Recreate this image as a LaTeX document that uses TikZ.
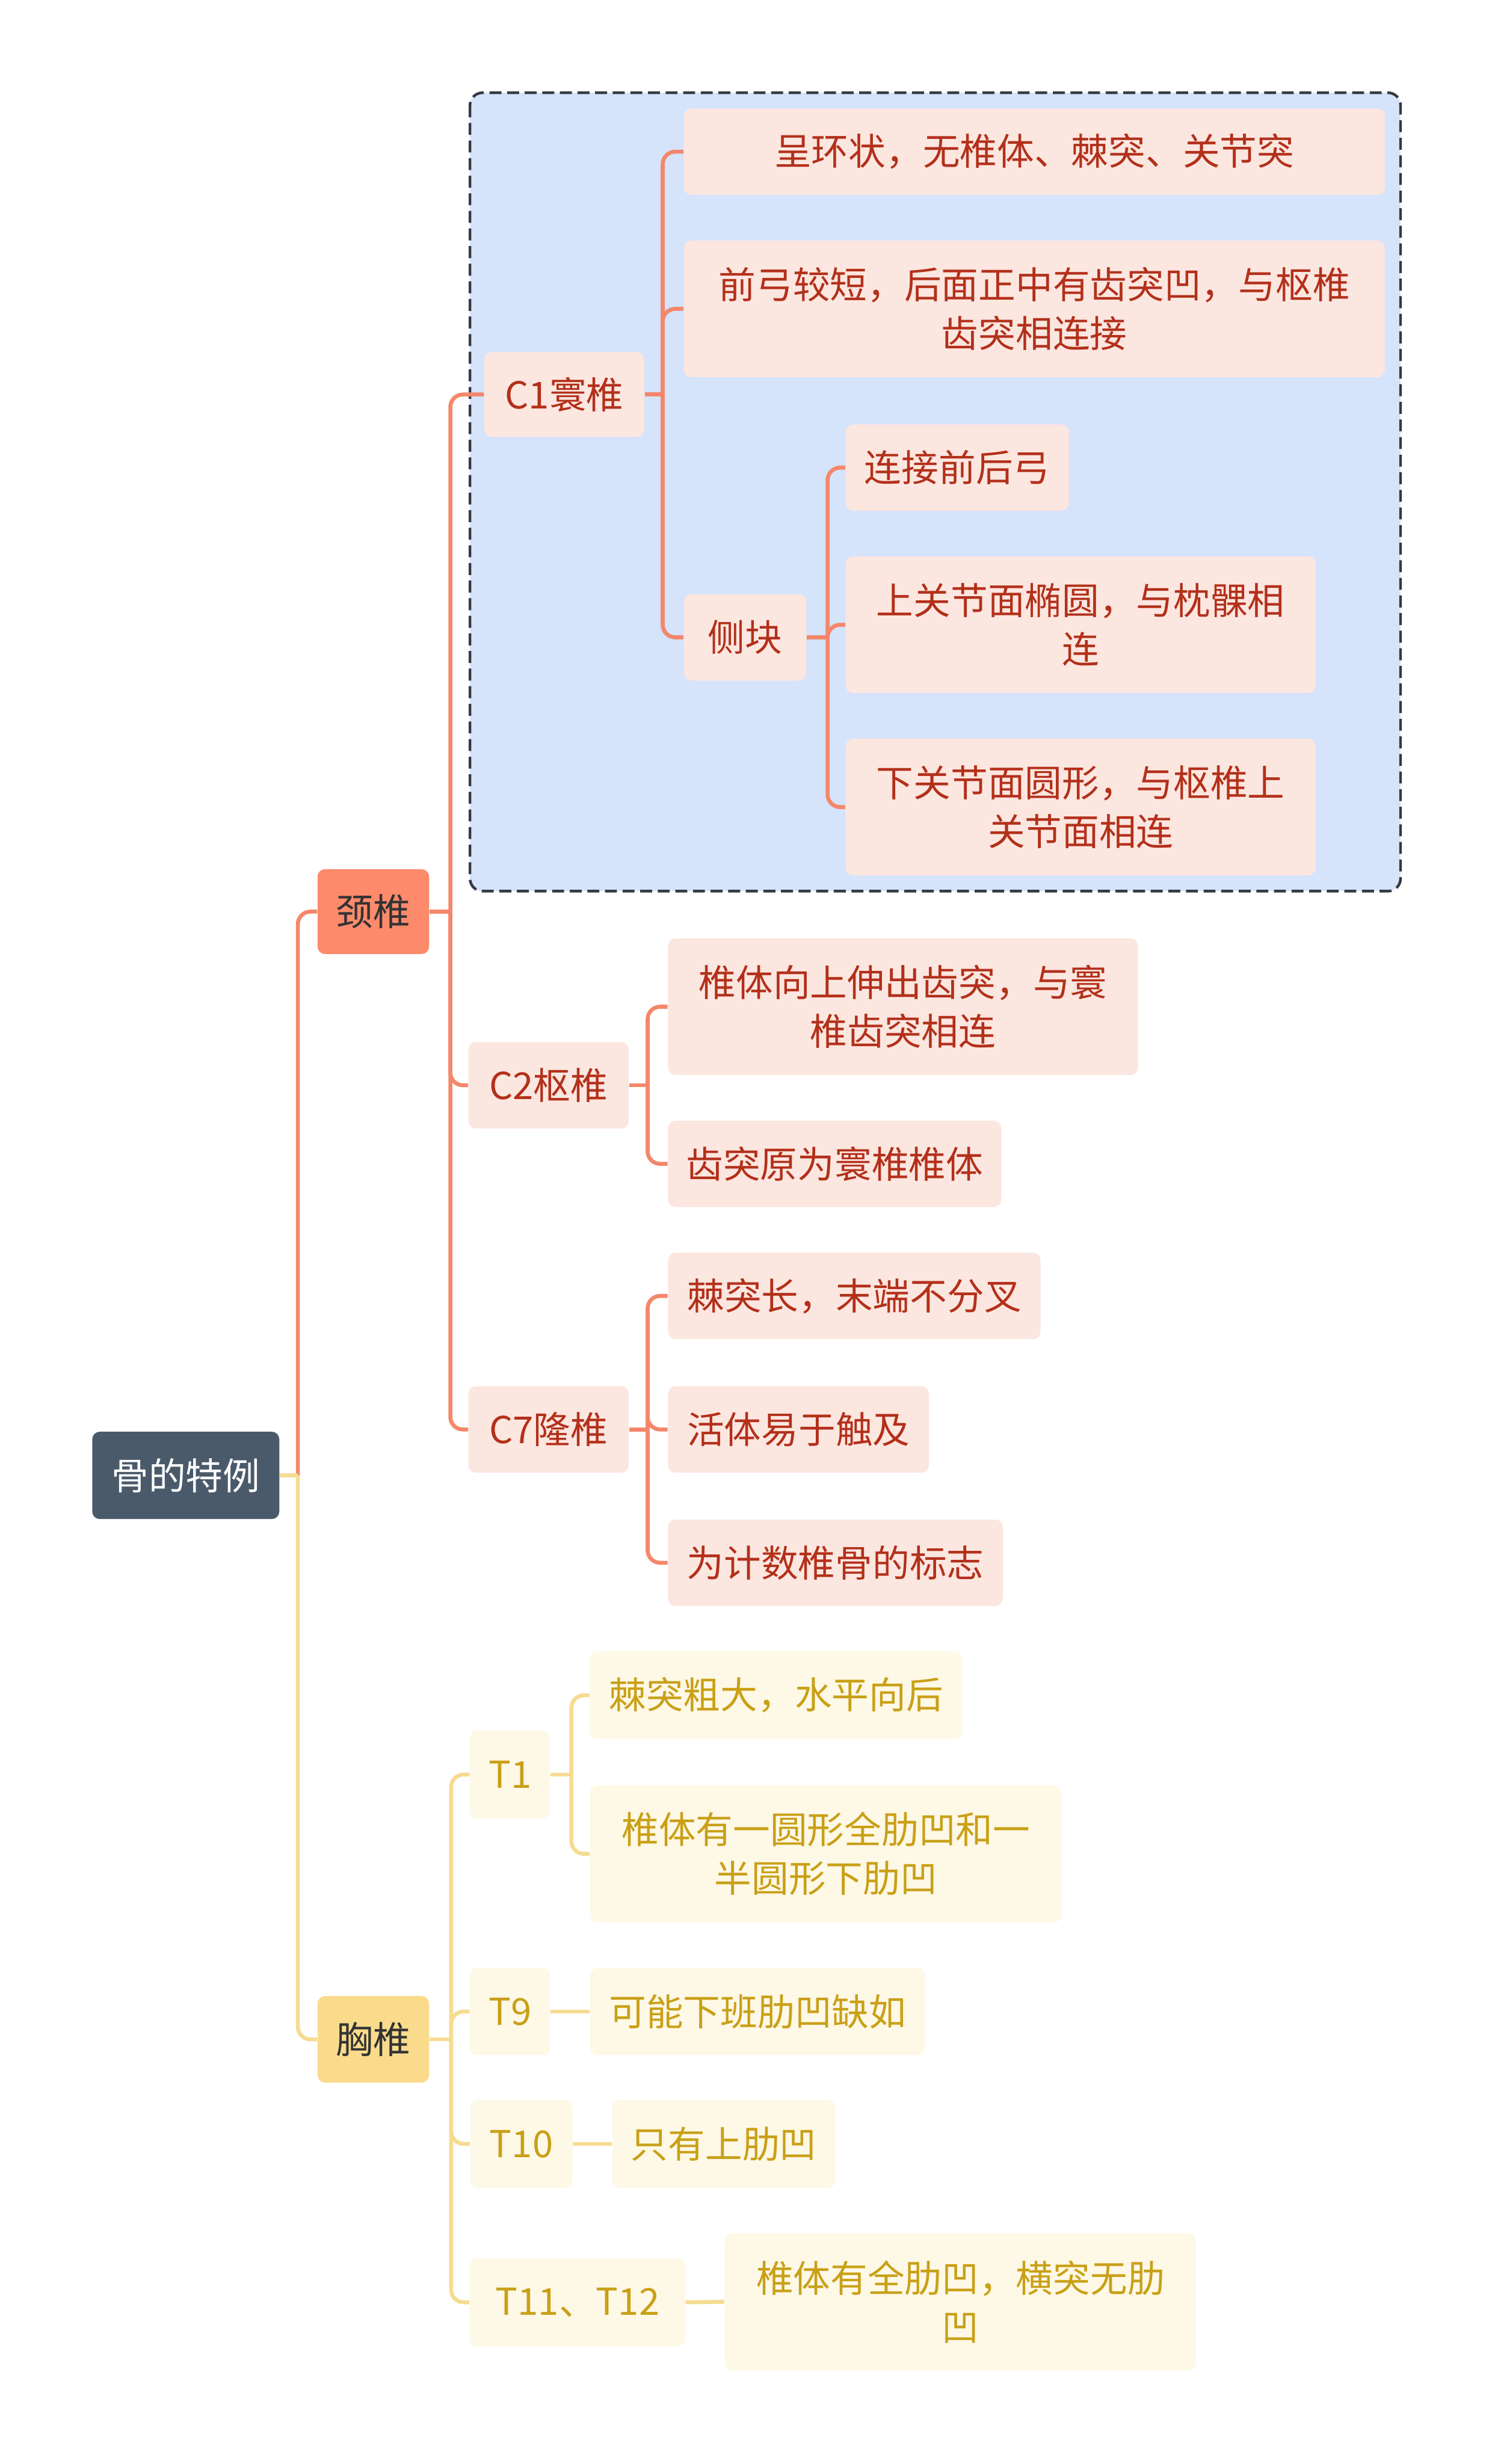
\documentclass[tikz,border=0pt]{standalone}
\usepackage{fontspec}
\setmainfont{Noto Sans CJK SC}
\usepackage{tikz}
\usetikzlibrary{calc}

\definecolor{rootfill}{HTML}{4A5A6A}
\definecolor{neckfill}{HTML}{FD8A6B}
\definecolor{chestfill}{HTML}{F9DB8B}
\definecolor{pinkfill}{HTML}{FCE6E0}
\definecolor{pinktext}{HTML}{B3301A}
\definecolor{pinkline}{HTML}{F4876B}
\definecolor{creamfill}{HTML}{FEF8E6}
\definecolor{creamtext}{HTML}{C9A016}
\definecolor{creamline}{HTML}{F6DC92}
\definecolor{groupfill}{HTML}{D5E3FB}
\definecolor{groupedge}{HTML}{333A40}
\definecolor{darktext}{HTML}{333333}

\begin{document}
\begin{tikzpicture}[x=0.25mm, y=-0.25mm,
  box/.style={rounded corners=1.2mm, inner sep=0pt, align=center, font=\fontsize{16.8}{22}\selectfont},
  rootbox/.style={box, fill=rootfill, text=white},
  neckbox/.style={box, fill=neckfill, text=darktext},
  chestbox/.style={box, fill=chestfill, text=darktext},
  pinkbox/.style={box, fill=pinkfill, text=pinktext},
  creambox/.style={box, fill=creamfill, text=creamtext},
  pinkwire/.style={draw=pinkline, line width=1.8pt},
  creamwire/.style={draw=creamline, line width=1.8pt},
  elbow/.style={rounded corners=2mm}]
\useasboundingbox (0,0) rectangle (951,1567.7);

\draw[fill=groupfill, draw=groupedge, line width=1.2pt, dash pattern=on 1.9mm off 0.9mm, rounded corners=2mm] (299,59) rectangle (891,567);

\node[rootbox, minimum width=29.75mm, minimum height=13.9mm] (root) at (118.2,938.7) {骨的特例};
\node[neckbox, minimum width=17.75mm, minimum height=13.5mm] (neck) at (237.5,580) {颈椎};
\node[chestbox, minimum width=17.75mm, minimum height=13.75mm] (chest) at (237.5,1297.5) {胸椎};

\node[pinkbox, minimum width=25.5mm, minimum height=13.5mm] (c1) at (359,251) {C1寰椎};
\node[pinkbox, minimum width=111.5mm, minimum height=13.75mm] (c1a) at (658,96.5) {呈环状，无椎体、棘突、关节突};
\node[pinkbox, minimum width=111.5mm, minimum height=21.75mm] (c1b) at (658,196.5) {前弓较短，后面正中有齿突凹，与枢椎\\齿突相连接};
\node[pinkbox, minimum width=19.5mm, minimum height=13.75mm] (side) at (474,405.5) {侧块};
\node[pinkbox, minimum width=35.5mm, minimum height=13.75mm] (side1) at (609,297.5) {连接前后弓};
\node[pinkbox, minimum width=74.75mm, minimum height=21.75mm] (side2) at (687.5,397.5) {上关节面椭圆，与枕髁相\\连};
\node[pinkbox, minimum width=74.75mm, minimum height=21.75mm] (side3) at (687.5,513.5) {下关节面圆形，与枢椎上\\关节面相连};

\node[pinkbox, minimum width=25.5mm, minimum height=13.75mm] (c2) at (349,690.5) {C2枢椎};
\node[pinkbox, minimum width=74.75mm, minimum height=21.75mm] (c2a) at (574.5,640.5) {椎体向上伸出齿突，与寰\\椎齿突相连};
\node[pinkbox, minimum width=53mm, minimum height=13.75mm] (c2b) at (531,740.5) {齿突原为寰椎椎体};

\node[pinkbox, minimum width=25.5mm, minimum height=13.75mm] (c7) at (349,909.5) {C7隆椎};
\node[pinkbox, minimum width=59.25mm, minimum height=13.75mm] (c7a) at (543.5,824.5) {棘突长，末端不分叉};
\node[pinkbox, minimum width=41.5mm, minimum height=13.75mm] (c7b) at (508,909.5) {活体易于触及};
\node[pinkbox, minimum width=53.25mm, minimum height=13.75mm] (c7c) at (531.5,994.3) {为计数椎骨的标志};

\node[creambox, minimum width=12.75mm, minimum height=14mm] (t1) at (324.5,1129) {T1};
\node[creambox, minimum width=59.25mm, minimum height=14mm] (t1a) at (493.8,1078.6) {棘突粗大，水平向后};
\node[creambox, minimum width=75mm, minimum height=21.75mm] (t1b) at (525.4,1179.5) {椎体有一圆形全肋凹和一\\半圆形下肋凹};
\node[creambox, minimum width=12.75mm, minimum height=13.9mm] (t9) at (324.5,1279.8) {T9};
\node[creambox, minimum width=53.25mm, minimum height=13.9mm] (t9a) at (482,1279.8) {可能下班肋凹缺如};
\node[creambox, minimum width=16.25mm, minimum height=14mm] (t10) at (331.7,1364) {T10};
\node[creambox, minimum width=35.5mm, minimum height=14mm] (t10a) at (460.5,1364) {只有上肋凹};
\node[creambox, minimum width=34.25mm, minimum height=14mm] (t11) at (367.4,1464.8) {T11、T12};
\node[creambox, minimum width=75mm, minimum height=21.75mm] (t11a) at (611,1464.5) {椎体有全肋凹，横突无肋\\凹};

\coordinate (rootjoin) at (189.5,938.7);
\coordinate (neckjoin) at (286.5,580);
\coordinate (c1join) at (421.6,251);
\coordinate (sidejoin) at (526.5,405.5);
\coordinate (c2join) at (412,690.5);
\coordinate (c7join) at (412,909.5);
\coordinate (chestjoin) at (287,1297.5);
\coordinate (t1join) at (363.5,1129);

\draw[pinkwire] (root.east) -- (rootjoin);
\draw[pinkwire, elbow] (rootjoin) |- (neck.west);
\draw[creamwire, elbow] (rootjoin) |- (chest.west);
\draw[creamwire] (root.east) -- (rootjoin);

\draw[pinkwire] (neck.east) -- (neckjoin);
\foreach \kid in {c1,c2,c7}
  \draw[pinkwire, elbow] (neckjoin) |- (\kid.west);

\draw[pinkwire] (c1.east) -- (c1join);
\foreach \kid in {c1a,c1b,side}
  \draw[pinkwire, elbow] (c1join) |- (\kid.west);

\draw[pinkwire] (side.east) -- (sidejoin);
\foreach \kid in {side1,side2,side3}
  \draw[pinkwire, elbow] (sidejoin) |- (\kid.west);

\draw[pinkwire] (c2.east) -- (c2join);
\foreach \kid in {c2a,c2b}
  \draw[pinkwire, elbow] (c2join) |- (\kid.west);

\draw[pinkwire] (c7.east) -- (c7join);
\foreach \kid in {c7a,c7b,c7c}
  \draw[pinkwire, elbow] (c7join) |- (\kid.west);

\draw[creamwire] (chest.east) -- (chestjoin);
\foreach \kid in {t1,t9,t10,t11}
  \draw[creamwire, elbow] (chestjoin) |- (\kid.west);

\draw[creamwire] (t1.east) -- (t1join);
\foreach \kid in {t1a,t1b}
  \draw[creamwire, elbow] (t1join) |- (\kid.west);

\draw[creamwire] (t9.east) -- (t9a.west);
\draw[creamwire] (t10.east) -- (t10a.west);
\draw[creamwire] (t11.east) -- (t11a.west);
\end{tikzpicture}
\end{document}
